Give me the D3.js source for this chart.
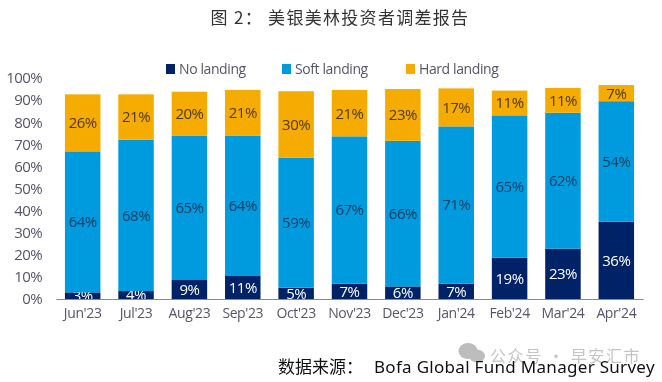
<!DOCTYPE html>
<html>
<head>
<meta charset="utf-8">
<script src="https://cdn.jsdelivr.net/npm/d3@7"></script>
<style>
    html, body { margin: 0; padding: 0; background: #fff; }
    svg { display: block; }
    text { font-family: "Open Sans", "Noto Sans", sans-serif; }
    .cjk { font-family: "Noto Sans CJK SC", sans-serif; }
    .soft-blur { filter: blur(0.35px); }
</style>
</head>
<body>
<svg id="chart" width="662" height="382"></svg>
<script>
    //  values, labels are what the chart prints
    var months = ["Jun'23", "Jul'23", "Aug'23", "Sep'23", "Oct'23", "Nov'23", "Dec'23", "Jan'24", "Feb'24", "Mar'24", "Apr'24"];

    var noLanding = [3, 3.6, 8.6, 10.4, 5.1, 6.9, 5.7, 6.9, 18.7, 22.8, 35];
    var softLanding = [63.8, 68.5, 65.2, 63.4, 58.8, 66.7, 65.9, 71.2, 64.4, 61.5, 54.5];
    var hardLanding = [25.8, 20.5, 20, 20.8, 30.1, 21, 23.4, 17.2, 11.2, 11.2, 7.3];

    var noLabels = [3, 4, 9, 11, 5, 7, 6, 7, 19, 23, 36];
    var softLabels = [64, 68, 65, 64, 59, 67, 66, 71, 65, 62, 54];
    var hardLabels = [26, 21, 20, 21, 30, 21, 23, 17, 11, 11, 7];

    var yTicks = [0, 10, 20, 30, 40, 50, 60, 70, 80, 90, 100];

    var seriesNames = ["No landing", "Soft landing", "Hard landing"];
    var seriesColors = ["#002266", "#009ADE", "#F5AB00"];
    var labelColors = ["#ffffff", "#0f3f63", "#4d3b12"];

    var svg = d3.select("#chart");
    var plot = svg.append("g").attr("class", "soft-blur");

    var x = d3.scaleBand()
        .domain(months)
        .range([56, 643])
        .paddingInner(0.335)
        .paddingOuter(0.1675);

    var y = d3.scaleLinear()
        .domain([0, 100])
        .range([299, 78]);

    var labels = [noLabels, softLabels, hardLabels];

    //  stack the three series
    var rows = months.map(function(m, i){
        return { month: m, no: noLanding[i], soft: softLanding[i], hard: hardLanding[i] };
    });

    var stacked = d3.stack().keys(["no", "soft", "hard"])(rows);

    stacked.forEach(function(layer, s){

        plot.append("g")
            .selectAll("rect")
            .data(layer)
            .enter()
            .append("rect")
            .attr("x", function(d){ return x(d.data.month); })
            .attr("width", x.bandwidth())
            .attr("y", function(d){ return y(d[1]); })
            .attr("height", function(d){ return y(d[0]) - y(d[1]); })
            .attr("fill", seriesColors[s]);

        plot.append("g")
            .selectAll("text")
            .data(layer)
            .enter()
            .append("text")
            .attr("x", function(d){ return x(d.data.month) + x.bandwidth() / 2; })
            .attr("y", function(d){ return (y(d[0]) + y(d[1])) / 2; })
            .attr("dy", "0.36em")
            .attr("text-anchor", "middle")
            .attr("font-size", 15)
            .attr("letter-spacing", -0.5)
            .attr("fill", labelColors[s])
            .text(function(d, i){ return labels[s][i] + "%"; });

    });

    //  axes
    var yAxis = d3.axisLeft(y)
        .tickValues(yTicks)
        .tickSize(0)
        .tickFormat(function(d){ return d + "%"; });

    var yG = plot.append("g")
        .attr("transform", "translate(42,0)")
        .call(yAxis);

    yG.select(".domain").remove();

    yG.selectAll("text")
        .attr("x", 0)
        .attr("font-size", 15)
        .attr("letter-spacing", -0.6)
        .attr("fill", "#55556a")
        .style("font-family", '"Open Sans", sans-serif');

    var xAxis = d3.axisBottom(x).tickSize(0).tickPadding(9);

    var xG = plot.append("g")
        .attr("transform", "translate(0,299)")
        .call(xAxis);

    xG.select(".domain")
        .attr("stroke", "#8a8a8a")
        .attr("stroke-width", 1.2);

    xG.selectAll("text")
        .attr("font-size", 14)
        .attr("letter-spacing", -0.4)
        .attr("fill", "#55556a")
        .style("font-family", '"Open Sans", sans-serif');

    //  legend
    var legendX = [166, 282, 406];

    var legend = plot.append("g")
        .selectAll("g")
        .data(seriesNames)
        .enter()
        .append("g")
        .attr("transform", function(d, i){ return "translate(" + legendX[i] + ",64)"; });

    legend.append("rect")
        .attr("width", 9)
        .attr("height", 10)
        .attr("fill", function(d, i){ return seriesColors[i]; });

    legend.append("text")
        .attr("x", 13)
        .attr("y", 5)
        .attr("dy", "0.36em")
        .attr("font-size", 14)
        .attr("letter-spacing", -0.4)
        .attr("fill", "#55556a")
        .text(function(d){ return d; });

    //  title and source
    svg.append("text")
        .attr("class", "cjk")
        .attr("x", 340)
        .attr("y", 24)
        .attr("text-anchor", "middle")
        .attr("font-size", 17)
        .attr("letter-spacing", 1.3)
        .attr("fill", "#333")
        .text("图 2： 美银美林投资者调差报告");

    //  watermark
    var mark = svg.append("g").attr("fill", "#bdbdbd");

    mark.append("ellipse").attr("cx", 468).attr("cy", 351).attr("rx", 9.5).attr("ry", 8);
    mark.append("ellipse").attr("cx", 477).attr("cy", 356).attr("rx", 8).attr("ry", 6.5);

    mark.append("text")
        .attr("class", "cjk")
        .attr("x", 490)
        .attr("y", 362)
        .attr("font-size", 16)
        .attr("letter-spacing", 1.6)
        .attr("fill", "#c4c4c4")
        .text("公众号 · 早安汇市");

    svg.append("text")
        .attr("x", 278)
        .attr("y", 373)
        .attr("font-size", 17)
        .attr("fill", "#111")
        .html('<tspan class="cjk">数据来源：</tspan><tspan dx="11" font-family="Noto Sans" letter-spacing="0.3">Bofa Global Fund Manager Survey</tspan>');
</script>
</body>
</html>
